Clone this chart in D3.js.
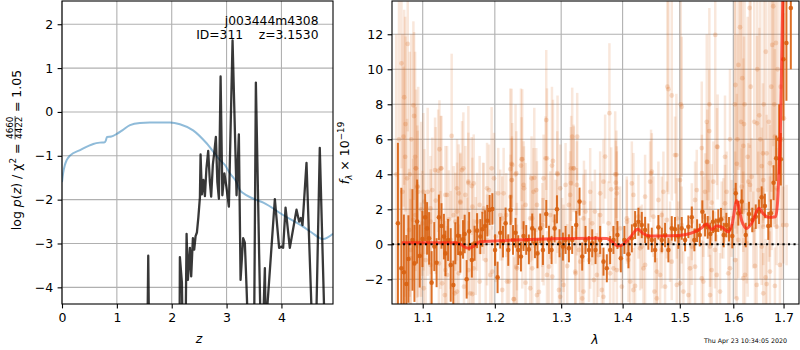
<!DOCTYPE html>
<meta charset="utf-8">
<style>
body { margin: 0; background: #fff; }
svg { font-family: "DejaVu Sans", sans-serif; }
.grid line { stroke: #b0b0b0; stroke-width: 1.1; }
.axis line { stroke: #000; stroke-width: 1.1; }
.axis text { font-family: "DejaVu Sans", sans-serif; font-size: 12.5px; fill: #000; }
.spine { fill: none; stroke: #000; stroke-width: 1.1; }
</style>
<svg width="800" height="350"></svg>
<script src="https://d3js.org/d3.v7.min.js"></script>
<script>

// ---- left panel: log p(z) and prior ----
var pzZ   = [0, 1.50, 1.550, 1.572, 1.595, 1.70, 2.10, 2.140, 2.149, 2.186, 2.210, 2.245, 2.271, 2.295, 2.332, 2.355, 2.386, 2.410, 2.435, 2.459, 2.486, 2.514, 2.526, 2.550, 2.577, 2.605, 2.632, 2.665, 2.696, 2.719, 2.750, 2.778, 2.805, 2.832, 2.860, 2.891, 2.923, 2.960, 2.996, 3.042, 3.109, 3.182, 3.224, 3.255, 3.302, 3.333, 3.364, 3.420, 3.497, 3.534, 3.594, 3.638, 3.698, 3.725, 3.745, 3.880, 3.958, 4.002, 4.031, 4.075, 4.153, 4.275, 4.322, 4.353, 4.384, 4.457, 4.548, 4.580, 4.620, 4.639, 4.699, 4.778, 4.800, 4.940];
var pzLog = [-8, -8, -6, -3.28, -6, -8, -8, -6, -3.31, -3.9, -6, -6, -2.78, -3.83, -3.10, -3.75, -2.88, -3.14, -2.83, -2.75, -2.40, -1.95, -0.97, -1.88, -1.55, -1.92, -1.30, -0.89, -1.60, -1.93, -1.20, -0.90, -0.57, -1.60, -1.98, 0.81, -1.90, -1.40, -1.70, -2.16, 1.63, -1.90, -0.51, -3.83, -2.88, -2.98, -4.00, -6, -6, 0.67, -3.26, -6, -3.56, -6, -4.40, -1.99, -3.10, -3.07, -3.10, -2.18, -3.10, -2.23, -2.50, -2.42, -2.58, -1.16, -4.50, -6, -6, -4.50, -0.82, -4.50, -6, -6];

var priorZ   = [0, 0.02, 0.05, 0.085, 0.15, 0.33, 0.57, 0.69, 0.78, 0.80, 0.82, 0.90, 1.00, 1.10, 1.24, 1.42, 1.60, 1.80, 1.97, 2.15, 2.39, 2.64, 2.88, 2.97, 3.06, 3.18, 3.24, 3.30, 3.49, 3.67, 4.03, 4.40, 4.55, 4.76, 4.94];
var priorLog = [-1.60, -1.40, -1.22, -1.10, -0.99, -0.87, -0.73, -0.70, -0.69, -0.65, -0.57, -0.56, -0.50, -0.42, -0.30, -0.25, -0.24, -0.24, -0.24, -0.28, -0.42, -0.72, -1.10, -1.21, -1.40, -1.60, -1.78, -1.85, -1.98, -2.07, -2.35, -2.62, -2.75, -2.90, -2.78];

var zTicks = [0, 1, 2, 3, 4];
var pzTicks = [-4, -3, -2, -1, 0, 1, 2];

// ---- right panel: spectrum, rows are [wavelength (um), flux, error] ----
var binned = [
  [1.0676, 1.20, 4.6], [1.0720, -1.37, 4.6], [1.0753, -1.60, 3.3], [1.0785, -2.27, 2.8], [1.0812, -0.84, 2.5],
  [1.0865, 0.25, 2.9], [1.0891, -1.09, 2.2], [1.0926, 1.30, 2.4], [1.0960, -0.67, 1.8], [1.0996, 0.30, 1.6],
  [1.1032, 1.54, 1.35], [1.1058, 0.91, 1.5], [1.1085, 0.34, 1.5], [1.1119, -2.19, 1.8], [1.1155, -0.13, 1.4],
  [1.1186, -1.05, 1.4], [1.1217, 1.54, 1.3], [1.1252, 1.05, 1.3], [1.1285, 0.44, 1.3], [1.1306, -0.52, 1.3],
  [1.1342, 0.25, 1.2], [1.1378, -1.18, 2.1], [1.1414, -2.33, 1.4], [1.1442, 0.06, 1.2], [1.1479, 0.49, 1.1],
  [1.1511, -0.52, 1.1], [1.1548, 0.28, 1.1], [1.1571, 0.59, 1.1], [1.1599, -2.00, 1.1], [1.1634, 0.74, 1.1],
  [1.1672, -0.90, 1.0], [1.1710, 0.06, 1.0], [1.1746, 0.78, 1.0], [1.1792, 0.44, 1.0], [1.1820, 0.86, 1.0],
  [1.1859, 1.05, 0.9], [1.1892, 1.35, 0.9], [1.1925, 1.96, 0.86], [1.1964, 2.02, 0.9], [1.2003, -0.33, 0.9],
  [1.2040, -1.89, 0.9], [1.2079, 0.66, 0.9], [1.2119, 0.15, 0.9], [1.2157, 1.20, 0.9], [1.2196, -0.33, 0.9],
  [1.2230, 1.96, 0.85], [1.2266, 0.25, 0.85], [1.2304, 0.66, 0.85], [1.2344, -0.33, 0.85], [1.2384, -0.70, 0.85],
  [1.2423, 0.47, 0.85], [1.2463, 0.25, 0.85], [1.2503, -0.29, 0.85], [1.2554, 0.91, 0.85], [1.2595, 0.06, 0.85],
  [1.2634, -0.52, 0.85], [1.2676, 0.91, 0.85], [1.2717, -0.33, 0.85], [1.2768, 1.73, 0.8], [1.2810, 0.25, 0.8],
  [1.2850, -0.33, 0.8], [1.2897, 0.91, 0.8], [1.2934, 2.00, 0.8], [1.2974, 0.06, 0.8], [1.3027, -0.13, 0.8],
  [1.3069, 0.25, 0.8], [1.3122, -0.23, 0.8], [1.3174, 0.25, 0.8], [1.3238, 1.10, 0.8], [1.3291, 2.44, 0.8],
  [1.3334, -0.70, 0.8], [1.3387, 0.25, 0.8], [1.3443, -0.33, 0.8], [1.3496, 0.06, 0.8], [1.3550, -0.33, 0.8],
  [1.3626, 0.25, 0.8], [1.3681, -0.99, 0.8], [1.3736, -1.37, 0.8], [1.3791, -0.33, 0.8], [1.3846, 0.25, 0.8],
  [1.3913, 0.53, 0.8], [1.3970, -0.80, 0.8], [1.4030, 0.25, 0.8], [1.4099, -0.57, 0.8], [1.4157, 0.34, 0.8],
  [1.4213, 1.10, 0.8], [1.4270, 1.29, 0.8], [1.4328, 1.10, 0.75], [1.4385, 0.82, 0.75], [1.4442, 0.44, 0.75],
  [1.4502, 0.25, 0.7], [1.4560, -0.33, 0.7], [1.4618, 0.97, 0.7], [1.4678, 0.25, 0.7], [1.4736, 0.53, 0.7],
  [1.4795, -0.33, 0.7], [1.4855, 0.91, 0.7], [1.4914, 0.86, 0.7], [1.4974, 0.44, 0.7], [1.5035, 0.91, 0.65],
  [1.5096, 0.25, 0.65], [1.5156, 1.00, 0.65], [1.5219, 1.54, 0.62], [1.5266, 0.25, 0.65], [1.5316, 0.78, 0.65],
  [1.5366, 0.53, 0.65], [1.5414, 1.86, 0.65], [1.5464, 1.10, 0.65], [1.5514, 0.97, 0.65], [1.5563, 0.59, 0.65],
  [1.5613, 1.29, 0.65], [1.5664, 0.82, 0.65], [1.5713, 1.35, 0.65], [1.5764, 1.43, 0.65], [1.5816, 0.53, 0.7],
  [1.5866, 1.10, 0.7], [1.5917, 0.86, 0.7], [1.5981, 0.47, 0.7], [1.6047, 2.91, 0.6], [1.6097, 1.77, 0.7],
  [1.6163, 2.44, 0.7], [1.6242, 0.53, 0.7], [1.6306, 1.73, 0.7], [1.6371, 1.39, 0.7], [1.6439, 1.58, 0.7],
  [1.6504, 1.86, 0.7], [1.6557, 2.69, 0.62], [1.6622, 2.19, 0.7], [1.6690, 1.05, 0.8], [1.6743, 1.77, 0.8],
  [1.6797, 3.52, 1.0], [1.6850, 4.91, 1.3], [1.6910, 6.00, 2.0], [1.6944, 4.86, 1.5], [1.6998, 10.57, 3.5],
  [1.7059, 11.50, 3.3], [1.7150, 13.50, 3.5]
];

var beams = [
  [1.0722, 10.34, 6.0], [1.0757, 8.40, 5.0], [1.0774, 6.87, 5.0], [1.0748, 6.15, 4.0], [1.0803, 11.45, 5.0],
  [1.0877, 7.94, 4.8], [1.0886, 7.33, 4.8], [1.0912, 4.34, 4.5], [1.1207, 4.20, 3.5], [1.1224, 5.43, 2.8],
  [1.1243, 4.34, 3.0], [1.1391, 6.19, 4.7], [1.1553, 4.34, 3.2], [1.1954, 4.34, 3.5], [1.2245, 4.59, 4.3],
  [1.2304, 4.00, 4.0], [1.2404, 4.86, 4.0], [1.2768, 7.10, 4.0], [1.2779, 4.91, 4.0], [1.2872, 4.76, 3.5],
  [1.2943, 4.00, 4.5], [1.3174, 6.15, 2.8], [1.3158, 4.34, 3.0], [1.3195, 4.34, 2.5], [1.3254, 6.15, 2.5],
  [1.3779, 7.49, 4.0], [1.3896, 4.00, 2.5], [1.4489, 4.05, 2.5], [1.4795, 8.86, 6.0], [1.4938, 5.10, 3.5],
  [1.5036, 7.86, 4.0], [1.5505, 4.70, 3.0], [1.5543, 6.47, 3.5], [1.5656, 11.96, 8.0], [1.5700, 5.56, 3.0],
  [1.6041, 9.10, 6.0], [1.6068, 4.60, 4.0], [1.6099, 10.25, 6.0], [1.6130, 12.40, 8.0], [1.6175, 9.49, 6.0],
  [1.6195, 5.62, 5.0], [1.6208, 6.87, 5.0], [1.6319, 13.50, 8.0], [1.6464, 6.91, 5.0], [1.6509, 7.37, 5.0],
  [1.6583, 5.20, 4.0], [1.6770, 11.39, 7.0], [1.6790, 13.60, 8.0], [1.6845, 11.50, 7.0], [1.6824, 6.15, 5.0],
  [1.7008, 7.20, 6.0],
  [1.0907, 4.34, 3.5], [1.1165, 4.24, 3.0], [1.1252, 4.34, 3.0], [1.0929, 3.29, 3.5], [1.1128, 3.10, 3.0],
  [1.1306, 2.82, 2.8], [1.1488, 2.91, 2.8], [1.1534, 4.24, 2.8], [1.1623, 3.58, 2.8], [1.1670, 3.33, 2.8],
  [1.1465, 1.87, 2.8], [1.1511, 2.38, 2.8], [1.1916, 3.10, 2.6], [1.1988, 3.77, 2.6], [1.2050, 2.91, 2.6],
  [1.2230, 2.72, 2.4], [1.2245, 3.67, 2.4], [1.2256, 4.53, 2.4], [1.2394, 4.86, 2.4], [1.2315, 4.06, 2.4],
  [1.2430, 3.20, 2.4], [1.2544, 3.77, 2.4], [1.2615, 3.10, 2.4], [1.2758, 4.91, 2.4], [1.2938, 4.06, 2.4],
  [1.3069, 3.39, 2.4], [1.3201, 4.34, 2.4], [1.3362, 2.38, 2.4], [1.3540, 1.87, 2.4], [1.0820, 0.82, 3.5],
  [1.0873, 1.39, 3.5], [1.0996, 1.20, 3.0], [1.1106, 1.29, 3.0], [1.1352, 1.43, 2.8], [1.1442, 1.29, 2.8],
  [1.1679, 2.15, 2.8], [1.1782, 2.25, 2.8], [1.1831, 1.87, 2.8], [1.2108, 1.48, 2.4], [1.2167, 1.67, 2.4],
  [1.2453, 2.25, 2.4], [1.2554, 1.48, 2.4], [1.2707, 1.10, 2.4], [1.2912, 1.29, 2.4], [1.3122, 2.25, 2.4],
  [1.3387, 1.87, 2.4], [1.3496, 1.20, 2.4], [1.0842, -0.32, 3.5], [1.0974, -0.61, 3.0], [1.1040, -0.90, 3.0],
  [1.1217, -1.09, 3.0], [1.1306, -1.47, 2.8], [1.1261, -2.23, 2.8], [1.1298, -2.90, 2.8], [1.1434, -2.80, 2.8],
  [1.1488, -1.66, 2.8], [1.1562, -2.42, 2.8], [1.1679, -2.84, 2.8], [1.1623, -1.47, 2.8], [1.1782, -2.13, 2.8],
  [1.1868, -0.90, 2.6], [1.1964, -1.56, 2.6], [1.2108, -2.61, 2.4], [1.2206, -2.13, 2.4], [1.2281, -3.14, 2.4],
  [1.2315, -1.28, 2.4], [1.2453, -2.19, 2.4], [1.2554, -1.37, 2.4], [1.2656, -2.72, 2.4], [1.2810, -1.28, 2.4],
  [1.2861, -1.85, 2.4], [1.2965, -2.61, 2.4], [1.3095, -1.24, 2.4], [1.3227, -1.66, 2.4], [1.3334, -3.09, 2.4],
  [1.3443, -0.90, 2.4], [1.3524, -2.04, 2.4], [1.0929, 0.06, 3.5], [1.1377, 0.25, 2.8], [1.1726, -0.10, 2.8],
  [1.2013, 0.44, 2.6], [1.2404, -0.13, 2.4], [1.2707, 0.25, 2.4], [1.3016, 0.25, 2.4], [1.3281, -0.32, 2.4],
  [1.3708, 5.01, 2.4], [1.3808, 3.14, 2.4], [1.3886, 3.52, 2.4], [1.3903, 2.91, 2.4], [1.4157, 3.48, 2.4],
  [1.4502, 4.15, 2.2], [1.4914, 5.10, 2.2], [1.5499, 4.72, 2.2], [1.5406, 4.06, 2.2], [1.5688, 5.58, 2.2],
  [1.6292, 3.58, 2.2], [1.6359, 3.86, 2.2], [1.6557, 4.47, 2.2], [1.6657, 5.20, 2.2], [1.6723, 4.63, 2.2],
  [1.3626, 2.91, 2.4], [1.4385, 2.72, 2.4], [1.4618, 2.53, 2.2], [1.4678, 1.67, 2.2], [1.5279, 2.53, 2.2],
  [1.5464, 3.00, 2.2], [1.5589, 2.38, 2.2], [1.5841, 2.34, 2.2], [1.6035, 3.10, 2.2], [1.6163, 3.29, 2.2],
  [1.6490, 3.10, 2.2], [1.6758, 1.87, 2.2], [1.6994, 1.10, 2.2], [1.3764, 1.20, 2.4], [1.3958, 0.91, 2.4],
  [1.4071, 1.48, 2.4], [1.4270, 1.58, 2.4], [1.4766, 1.39, 2.2], [1.5035, 1.10, 2.2], [1.5219, 1.29, 2.2],
  [1.5530, 1.48, 2.2], [1.5778, 1.39, 2.2], [1.5968, 1.48, 2.2], [1.6390, 0.82, 2.2], [1.6589, 1.01, 2.2],
  [1.6859, 1.01, 2.2], [1.3598, -0.61, 2.4], [1.3654, -2.61, 2.4], [1.3791, -1.66, 2.4], [1.3903, -1.47, 2.4],
  [1.3987, -2.42, 2.4], [1.4099, -0.90, 2.4], [1.4213, -2.38, 2.4], [1.4385, -1.18, 2.4], [1.4548, -2.70, 2.2],
  [1.4590, -1.56, 2.2], [1.4736, -2.42, 2.2], [1.4855, -0.99, 2.2], [1.5005, -2.23, 2.2], [1.5156, -2.90, 2.2],
  [1.5279, -1.28, 2.2], [1.5403, -1.95, 2.2], [1.5589, -1.47, 2.2], [1.5746, -2.70, 2.2], [1.5904, -1.66, 2.2],
  [1.6035, -0.90, 2.2], [1.6228, -1.75, 2.2], [1.6424, -1.24, 2.2], [1.6637, -1.89, 2.2], [1.6657, -2.27, 2.2],
  [1.6824, -2.38, 2.2], [1.6926, -1.18, 2.2], [1.3875, 0.25, 2.4], [1.4328, -0.13, 2.4], [1.4678, -0.32, 2.2],
  [1.4975, 0.25, 2.2], [1.5219, -0.13, 2.2], [1.5651, -0.32, 2.2], [1.6097, 0.25, 2.2], [1.6557, -0.13, 2.2],
  // lower half, left
  [1.0795, 3.77, 3.4], [1.0934, 3.29, 3.2], [1.1023, 2.44, 3.0], [1.1103, 2.05, 3.0], [1.1328, 2.82, 2.8],
  [1.1465, 3.20, 2.8], [1.1581, 2.82, 2.8], [1.1698, 3.48, 2.8], [1.1888, 3.20, 2.6], [1.2128, 2.91, 2.6],
  [1.2251, 3.67, 2.5], [1.2424, 3.39, 2.5], [1.2574, 3.00, 2.5], [1.2727, 3.77, 2.5], [1.2985, 3.20, 2.5],
  [1.3142, 2.82, 2.5], [1.0904, 1.67, 3.2], [1.1419, 1.67, 2.8], [1.1745, 1.29, 2.8], [1.2079, 1.67, 2.6],
  [1.2524, 1.48, 2.5], [1.2830, 1.67, 2.5], [1.3249, 1.86, 2.5], [1.0838, -0.80, 3.4], [1.1103, -1.18, 3.0],
  [1.1328, -1.75, 2.8], [1.1698, -1.37, 2.8], [1.1935, -1.75, 2.6], [1.2177, -2.13, 2.6], [1.2325, -1.37, 2.5],
  [1.2524, -2.51, 2.5], [1.2779, -1.75, 2.5], [1.3037, -2.32, 2.5], [1.3222, -1.56, 2.5], [1.1651, -2.80, 2.8],
  [1.2275, -3.13, 2.5], [1.2626, -2.90, 2.5], [1.2985, -3.00, 2.5], [1.1014, -2.51, 3.0], [1.1465, -2.70, 2.8],
  [1.0926, 0.15, 3.2], [1.1237, 0.25, 2.8], [1.1605, -0.13, 2.8], [1.1888, 0.25, 2.6], [1.2325, -0.13, 2.5],
  [1.2727, 0.15, 2.5], [1.3037, -0.23, 2.5], [1.1839, 2.05, 2.6], [1.2626, 2.25, 2.5], [1.1511, 2.44, 2.8],
  // lower half, right
  [1.3249, 3.39, 2.5], [1.3463, 3.00, 2.5], [1.3680, 3.58, 2.4], [1.3903, 3.20, 2.4], [1.4184, 2.82, 2.4],
  [1.4472, 3.58, 2.3], [1.4706, 3.00, 2.3], [1.5005, 3.67, 2.3], [1.5310, 3.10, 2.3], [1.5619, 3.58, 2.3],
  [1.5873, 3.00, 2.3], [1.6325, 3.39, 2.3], [1.6589, 3.67, 2.3], [1.6859, 3.20, 2.3], [1.7063, 1.10, 2.3],
  [1.3355, 1.48, 2.5], [1.3626, 1.67, 2.4], [1.4072, 1.29, 2.4], [1.4530, 1.58, 2.3], [1.4946, 1.48, 2.3],
  [1.5432, 1.58, 2.3], [1.5809, 1.48, 2.3], [1.6194, 1.86, 2.3], [1.6723, 1.58, 2.3], [1.3302, -0.99, 2.5],
  [1.3572, -1.75, 2.4], [1.3846, -1.37, 2.4], [1.4128, -2.13, 2.4], [1.4356, -1.37, 2.3], [1.4648, -1.75, 2.3],
  [1.4946, -2.32, 2.3], [1.5187, -1.37, 2.3], [1.5432, -2.13, 2.3], [1.5684, -1.75, 2.3], [1.5936, -1.37, 2.3],
  [1.6194, -1.94, 2.3], [1.6458, -2.32, 2.3], [1.6723, -1.56, 2.3], [1.3355, -2.70, 2.5], [1.3680, -3.00, 2.4],
  [1.4184, -2.61, 2.4], [1.4590, -3.09, 2.3], [1.5065, -2.70, 2.3], [1.5557, -2.90, 2.3], [1.6066, -3.09, 2.3],
  [1.6589, -2.80, 2.3], [1.3463, -0.04, 2.5], [1.4299, -0.23, 2.4], [1.4825, 0.15, 2.3], [1.5557, -0.13, 2.3],
  [1.6261, 0.06, 2.3],
  // long bars reaching high
  [1.1066, 3.00, 4.8], [1.1174, 2.50, 4.2], [1.1623, 3.50, 4.4], [1.2226, 4.30, 4.6], [1.2384, 4.50, 4.4],
  [1.2585, 3.80, 4.0], [1.2856, 4.50, 4.5], [1.3153, 3.50, 3.2], [1.3875, 4.00, 3.6], [1.4777, 9.00, 6.0],
  [1.4855, 8.50, 6.0], [1.5018, 8.00, 6.0], [1.5403, 5.50, 3.8], [1.5496, 7.00, 5.0], [1.5545, 8.00, 5.5],
  [1.5841, 5.00, 3.5], [1.5936, 6.00, 4.0],
  [1.6030, 8.00, 6.0], [1.6080, 6.00, 6.0], [1.6150, 7.00, 7.0], [1.6220, 8.00, 6.0], [1.6280, 5.00, 8.0],
  [1.6340, 9.00, 6.0], [1.6410, 7.00, 7.0], [1.6470, 10.00, 6.0], [1.6530, 6.00, 8.0], [1.6600, 8.00, 7.0],
  [1.6640, 11.00, 5.0], [1.6700, 7.00, 8.0], [1.6750, 9.00, 6.0], [1.6810, 8.00, 7.0], [1.6880, 10.00, 7.0],
  [1.6940, 9.00, 8.0], [1.6970, 6.00, 8.0],
  [1.0655, 4.00, 8.0], [1.0690, 6.00, 8.0], [1.0735, 3.00, 9.0], [1.0770, 5.00, 8.0], [1.0830, 4.00, 7.0],
  [1.0850, 6.00, 6.0], [1.0900, 5.00, 6.0], [1.0940, 3.00, 6.0], [1.0980, 2.00, 5.0], [1.1010, 3.00, 4.5]
];

var modelWave = [1.0725, 1.1446, 1.1516, 1.1623, 1.1703, 1.1782, 1.3549, 1.3736, 1.3820, 1.3930, 1.4014, 1.4128, 1.4259, 1.4356, 1.4473, 1.4975, 1.5279, 1.5403, 1.5496, 1.5589, 1.5684, 1.5778, 1.5904, 1.5981, 1.6066, 1.6163, 1.6261, 1.6359, 1.6504, 1.6589, 1.6690, 1.6839, 1.6880, 1.6906, 1.6932, 1.6988, 1.7005];
var modelFlux = [0.09, 0.09, 0.00, -0.23, -0.10, 0.15, 0.34, 0.33, 0.15, -0.10, 0.00, 0.40, 0.86, 0.60, 0.47, 0.50, 0.72, 0.95, 1.16, 0.85, 1.05, 0.98, 0.72, 1.20, 2.49, 1.35, 0.91, 1.20, 2.06, 1.75, 1.54, 1.58, 2.50, 4.06, 5.96, 14.5, 16.0];

var waveTicks = [1.1, 1.2, 1.3, 1.4, 1.5, 1.6, 1.7];
var fluxTicks = [-2, 0, 2, 4, 6, 8, 10, 12];

var darkColor = "#d8600f";

var svg = d3.select("svg");
var L = {left: 62, right: 333, top: 1, bottom: 304};
var R = {left: 392, right: 799, top: 1, bottom: 304};

var xz = d3.scaleLinear().domain([0, 4.94]).range([L.left, L.right]);
var yp = d3.scaleLinear().domain([-4.38, 2.53]).range([L.bottom, L.top]);
var xw = d3.scaleLog().domain([1.06, 1.732]).range([R.left, R.right]);
var yf = d3.scaleLinear().domain([-3.41, 13.9]).range([R.bottom, R.top]);

var defs = svg.append("defs");
defs.append("clipPath").attr("id", "clipL").append("rect")
  .attr("x", L.left).attr("y", L.top).attr("width", L.right - L.left).attr("height", L.bottom - L.top);
defs.append("clipPath").attr("id", "clipR").append("rect")
  .attr("x", R.left).attr("y", R.top).attr("width", R.right - R.left).attr("height", R.bottom - R.top);

function drawGrid(box, xs, ys, xt, yt) {
  var g = svg.append("g").attr("class", "grid");
  g.selectAll(".gx").data(xt).enter().append("line")
    .attr("x1", function(d) { return xs(d); }).attr("x2", function(d) { return xs(d); })
    .attr("y1", box.top).attr("y2", box.bottom);
  g.selectAll(".gy").data(yt).enter().append("line")
    .attr("y1", function(d) { return ys(d); }).attr("y2", function(d) { return ys(d); })
    .attr("x1", box.left).attr("x2", box.right);
}

function drawAxes(box, xs, ys, xt, yt, xfmt) {
  svg.append("g").attr("class", "axis").attr("transform", "translate(0," + box.bottom + ")")
    .call(d3.axisBottom(xs).tickValues(xt).tickSize(4.4).tickPadding(4.4).tickSizeOuter(0).tickFormat(xfmt))
    .call(function(g) { g.select(".domain").remove(); });
  svg.append("g").attr("class", "axis").attr("transform", "translate(" + box.left + ",0)")
    .call(d3.axisLeft(ys).tickValues(yt).tickSize(4.4).tickPadding(4.4).tickSizeOuter(0).tickFormat(d3.format("d")))
    .call(function(g) { g.select(".domain").remove(); });
  svg.append("rect").attr("class", "spine")
    .attr("x", box.left).attr("y", box.top)
    .attr("width", box.right - box.left).attr("height", box.bottom - box.top);
}

// left panel
drawGrid(L, xz, yp, zTicks, pzTicks);
var gL = svg.append("g").attr("clip-path", "url(#clipL)");

gL.append("path")
  .datum(d3.range(priorZ.length))
  .attr("fill", "none").attr("stroke", "#1f77b4").attr("stroke-opacity", 0.5).attr("stroke-width", 2)
  .attr("d", d3.line().curve(d3.curveMonotoneX)
    .x(function(i) { return xz(priorZ[i]); }).y(function(i) { return yp(priorLog[i]); }));

gL.append("path")
  .datum(d3.range(pzZ.length))
  .attr("fill", "none").attr("stroke", "#000").attr("stroke-opacity", 0.78).attr("stroke-width", 2.3)
  .attr("stroke-linejoin", "round")
  .attr("d", d3.line()
    .x(function(i) { return xz(pzZ[i]); }).y(function(i) { return yp(pzLog[i]); }));

drawAxes(L, xz, yp, zTicks, pzTicks, d3.format("d"));

svg.append("text").attr("x", 318.5).attr("y", 24.5).attr("text-anchor", "end")
  .attr("font-size", 12.3).text("j003444m4308");
svg.append("text").attr("x", 318.5).attr("y", 38.5).attr("text-anchor", "end")
  .attr("font-size", 12.3).style("white-space", "pre").text("ID=311    z=3.1530");

svg.append("text").attr("x", xz(2.5)).attr("y", 343).attr("text-anchor", "middle")
  .attr("font-size", 12.5).attr("font-style", "italic").text("z");

// left y label with fraction
var labL = svg.append("g");
var tA = labL.append("text").attr("font-size", 12.5);
tA.append("tspan").text("log ");
tA.append("tspan").attr("font-style", "italic").text("p");
tA.append("tspan").text("(");
tA.append("tspan").attr("font-style", "italic").text("z");
tA.append("tspan").text(") / χ");
tA.append("tspan").attr("font-size", 8.8).attr("dy", -5).text("2");
tA.append("tspan").attr("dy", 5).style("white-space", "pre").text(" = ");
var wA = tA.node().getComputedTextLength();
var num = labL.append("text").attr("font-size", 8.8).attr("text-anchor", "middle").text("4660");
var den = labL.append("text").attr("font-size", 8.8).attr("text-anchor", "middle").text("4422");
var wF = Math.max(num.node().getComputedTextLength(), den.node().getComputedTextLength()) + 1;
num.attr("x", wA + wF / 2).attr("y", -7.6);
den.attr("x", wA + wF / 2).attr("y", 1.2);
labL.append("line").attr("x1", wA).attr("x2", wA + wF).attr("y1", -5.4).attr("y2", -5.4)
  .attr("stroke", "#000").attr("stroke-width", 0.7);
var tB = labL.append("text").attr("font-size", 12.5).attr("x", wA + wF)
  .style("white-space", "pre").text(" = 1.05");
var totL = wA + wF + tB.node().getComputedTextLength();
labL.attr("transform", "translate(20.5," + (150 + totL / 2) + ") rotate(-90)");

// right panel
drawGrid(R, xw, yf, waveTicks, fluxTicks);
var gR = svg.append("g").attr("clip-path", "url(#clipR)");

gR.selectAll(".beam-err").data(beams).enter().append("line")
  .attr("x1", function(d) { return xw(d[0]); }).attr("x2", function(d) { return xw(d[0]); })
  .attr("y1", function(d) { return yf(d[1] - d[2]); }).attr("y2", function(d) { return yf(d[1] + d[2]); })
  .attr("stroke", darkColor).attr("stroke-opacity", 0.15).attr("stroke-width", 2.5);
gR.selectAll(".beam-pt").data(beams).enter().append("circle")
  .attr("cx", function(d) { return xw(d[0]); }).attr("cy", function(d) { return yf(d[1]); })
  .attr("r", 2.4).attr("fill", darkColor).attr("fill-opacity", 0.2);

gR.selectAll(".bin-err").data(binned).enter().append("line")
  .attr("x1", function(d) { return xw(d[0]); }).attr("x2", function(d) { return xw(d[0]); })
  .attr("y1", function(d) { return yf(d[1] - d[2]); }).attr("y2", function(d) { return yf(d[1] + d[2]); })
  .attr("stroke", darkColor).attr("stroke-opacity", 0.9).attr("stroke-width", 2);
gR.selectAll(".bin-pt").data(binned).enter().append("circle")
  .attr("cx", function(d) { return xw(d[0]); }).attr("cy", function(d) { return yf(d[1]); })
  .attr("r", 2.3).attr("fill", darkColor).attr("fill-opacity", 0.9);

gR.append("path")
  .datum(d3.range(modelWave.length))
  .attr("fill", "none").attr("stroke", "#ff2010").attr("stroke-opacity", 0.7).attr("stroke-width", 3)
  .attr("d", d3.line().curve(d3.curveMonotoneX)
    .x(function(i) { return xw(modelWave[i]); }).y(function(i) { return yf(modelFlux[i]); }));

gR.append("line")
  .attr("x1", R.left).attr("x2", R.right).attr("y1", yf(0)).attr("y2", yf(0))
  .attr("stroke", "#000").attr("stroke-width", 2.1).attr("stroke-dasharray", "2.1,3.4");

drawAxes(R, xw, yf, waveTicks, fluxTicks, d3.format(".1f"));

svg.append("text").attr("x", 595).attr("y", 344).attr("text-anchor", "middle")
  .attr("font-size", 12.5).attr("font-style", "italic").text("λ");

var labR = svg.append("g");
var tR = labR.append("text").attr("font-size", 12.5);
tR.append("tspan").attr("font-style", "italic").text("f");
tR.append("tspan").attr("font-style", "italic").attr("font-size", 8.8).attr("dy", 2.5).text("λ");
tR.append("tspan").attr("dy", -2.5).style("white-space", "pre").text(" × 10");
tR.append("tspan").attr("font-size", 8.8).attr("dy", -5).text("−19");
var totR = tR.node().getComputedTextLength();
labR.attr("transform", "translate(349," + (153 + totR / 2) + ") rotate(-90)");

svg.append("text").attr("x", 787).attr("y", 343).attr("text-anchor", "end")
  .attr("font-size", 6.3).text("Thu Apr 23 10:34:05 2020");

</script>
